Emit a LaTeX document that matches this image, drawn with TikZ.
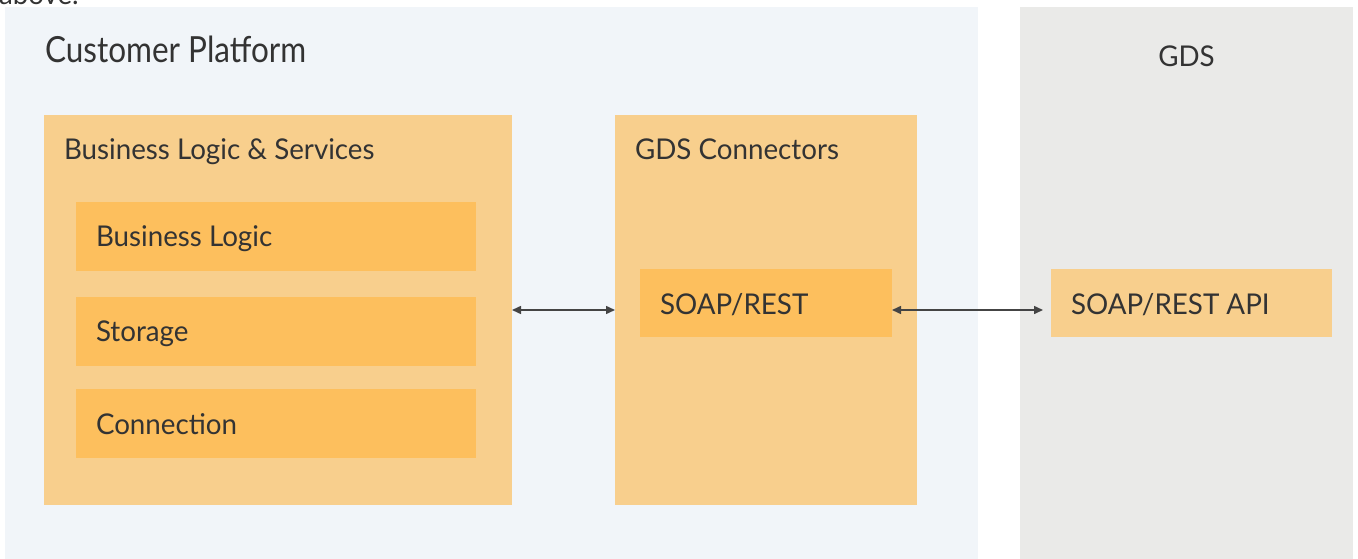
\documentclass[tikz,border=0pt]{standalone}
\usepackage{fontspec}
\setmainfont{Lato}[FakeStretch=0.97]
\newfontfamily\titlefont{Lato}[FakeStretch=0.875]
\usetikzlibrary{arrows.meta}
\definecolor{cpbg}{HTML}{F1F5F9}
\definecolor{gdsbg}{HTML}{EAEAE8}
\definecolor{lightor}{HTML}{F8CF8D}
\definecolor{darkor}{HTML}{FDBF5D}
\definecolor{txt}{HTML}{333333}
\definecolor{arr}{HTML}{444444}
\begin{document}
\begin{tikzpicture}[x=1pt,y=-1pt,
  panel/.style={draw=none,inner sep=0pt,outer sep=0pt,anchor=north west},
  lbl/.style={inner sep=0pt,outer sep=0pt,text=txt,font=\fontsize{28.6}{34}\selectfont},
  biglbl/.style={inner sep=0pt,outer sep=0pt,text=txt,font=\titlefont\fontsize{36}{42}\selectfont},
  link/.style={draw=arr,line width=1.5pt,{Triangle[length=9pt,width=8pt]}-{Triangle[length=9pt,width=8pt]}}]
\useasboundingbox (0,0) rectangle (1358,559);
\begin{scope}
\clip (0,0) rectangle (1358,559);
\node[lbl,anchor=base west] (frag) at (-1,4.5) {above.};
\end{scope}
% panels
\node[panel,fill=cpbg,minimum width=973,minimum height=552] (cp) at (5,7) {};
\node[panel,fill=gdsbg,minimum width=333,minimum height=552] (gds) at (1020,7) {};
\node[biglbl,anchor=base west] (cpt) at (45,63) {Customer Platform};
\node[lbl,anchor=base] (gdst) at (1186.5,66.5) {GDS};
% business logic & services
\node[panel,fill=lightor,minimum width=468,minimum height=390] (bls) at (44,115) {};
\node[lbl,anchor=base west] (blst) at (64,160) {Business Logic \& Services};
\node[panel,fill=darkor,minimum width=400,minimum height=69] (bl) at (76,202) {};
\node[lbl,anchor=base west] (blt) at (96,246.5) {Business Logic};
\node[panel,fill=darkor,minimum width=400,minimum height=69] (st) at (76,297) {};
\node[lbl,anchor=base west] (stt) at (96,341.5) {Storage};
\node[panel,fill=darkor,minimum width=400,minimum height=69] (cn) at (76,389) {};
\node[lbl,anchor=base west] (cnt) at (96,434.5) {Connection};
% GDS connectors
\node[panel,fill=lightor,minimum width=302,minimum height=390] (gc) at (615,115) {};
\node[lbl,anchor=base west] (gct) at (635,160) {GDS Connectors};
\node[panel,fill=darkor,minimum width=252,minimum height=68] (sr) at (640,269) {};
\node[lbl,anchor=base west] (srt) at (660,314) {SOAP/REST};
% GDS API
\node[panel,fill=lightor,minimum width=281,minimum height=68] (api) at (1051,269) {};
\node[lbl,anchor=base west] (apit) at (1071,314) {SOAP/REST API};
% connectors
\coordinate (ay) at (0,310);
\draw[link] (bls.east |- ay) -- (gc.west |- ay);
\draw[link,shorten >=8pt] (sr.east |- ay) -- (api.west |- ay);
\end{tikzpicture}
\end{document}
